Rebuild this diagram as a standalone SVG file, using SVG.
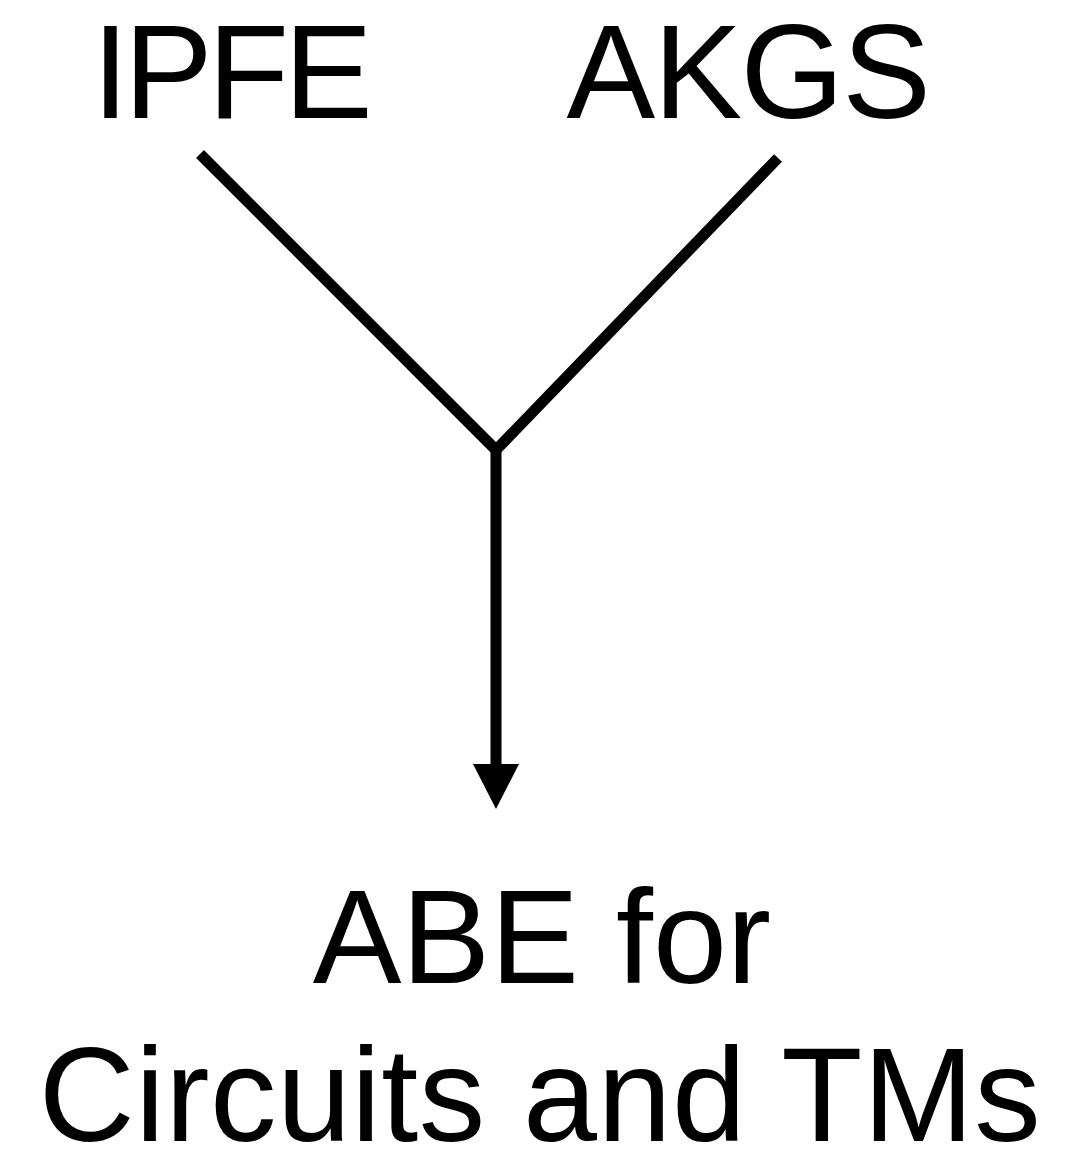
<svg xmlns="http://www.w3.org/2000/svg" width="1066" height="1158" viewBox="0 0 1066 1158">
  <style>
    .label { font-family: "Liberation Sans", Arial, Helvetica, sans-serif; font-size: 133px; fill: #000; }
    .mid { text-anchor: middle; }
    .edge { stroke: #000; stroke-width: 11; fill: none; }
  </style>
  <rect width="1066" height="1158" fill="#fff"/>
  <g id="node-ipfe">
    <text class="label" x="92" y="118" letter-spacing="-5">IPFE</text>
  </g>
  <g id="node-akgs">
    <text class="label mid" x="748" y="118" letter-spacing="-1.7">AKGS</text>
  </g>
  <g id="node-abe">
    <text class="label mid" x="542" y="983">ABE for</text>
    <text class="label mid" x="540" y="1141" letter-spacing="0.45">Circuits and TMs</text>
  </g>
  <g id="connectors">
    <line class="edge" x1="200" y1="154" x2="496" y2="450"/>
    <line class="edge" x1="778" y1="158" x2="496" y2="450"/>
    <line class="edge" x1="496" y1="450" x2="496" y2="768"/>
    <path d="M473,764 L519,764 L496,809 Z" fill="#000"/>
  </g>
</svg>
